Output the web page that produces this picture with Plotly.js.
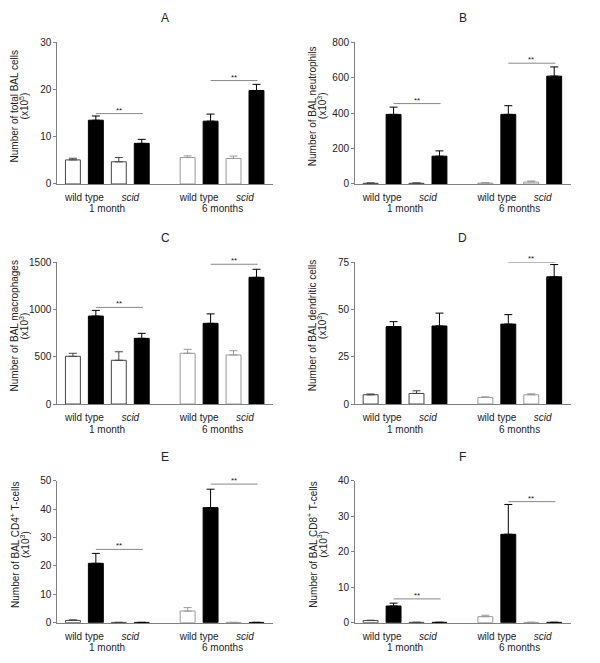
<!DOCTYPE html>
<html>
<head>
<meta charset="utf-8">
<script src="https://cdn.plot.ly/plotly-3.0.1.min.js"></script>
<style>
  html, body { margin:0; padding:0; background:#fff; }
  #plot { width:600px; height:663px; }
</style>
</head>
<body>
<div id="plot"></div>
<script>
(function(){
  // bar order inside each month: wild type ctrl, wild type infected, scid ctrl, scid infected
  const months = ['1 month', '6 months'];
  const strains = ['wild type', '<i>scid</i>'];
  const panelNames = ['A', 'B', 'C', 'D', 'E', 'F'];
  const yTitles = [
    'Number of total BAL cells',
    'Number of BAL neutrophils',
    'Number of BAL macrophages',
    'Number of BAL dendritic cells',
    'Number of BAL CD4<sup>+</sup> T-cells',
    'Number of BAL CD8<sup>+</sup> T-cells'
  ];
  const yUnits = ['(x10<sup>5</sup>)', '(x10<sup>3</sup>)', '(x10<sup>3</sup>)',
                  '(x10<sup>3</sup>)', '(x10<sup>3</sup>)', '(x10<sup>3</sup>)'];
  const yMax = [30, 800, 1500, 75, 50, 40];
  const yStep = [10, 200, 500, 25, 10, 10];

  const A_mean = [5.1, 13.5, 4.7, 8.6, 5.6, 13.3, 5.4, 19.8];
  const A_err  = [0.35, 0.9, 0.9, 0.85, 0.35, 1.5, 0.5, 1.3];
  const B_mean = [4, 393, 4, 157, 5, 393, 11, 609];
  const B_err  = [2, 41, 2, 30, 3, 49, 6, 52];
  const C_mean = [505, 931, 463, 695, 537, 854, 519, 1341];
  const C_err  = [32, 60, 90, 53, 42, 100, 45, 85];
  const D_mean = [4.9, 41, 5.6, 41.3, 3.5, 42.3, 4.9, 67.3];
  const D_err  = [0.4, 2.6, 1.4, 6.8, 0.3, 5, 0.5, 6.5];
  const E_mean = [0.8, 20.9, 0.1, 0.1, 4.1, 40.5, 0.1, 0.1];
  const E_err  = [0.2, 3.5, 0, 0, 1.2, 6.5, 0, 0];
  const F_mean = [0.6, 4.7, 0.1, 0.1, 1.7, 24.9, 0.1, 0.1];
  const F_err  = [0.1, 0.8, 0, 0, 0.4, 8.4, 0, 0];

  // height of the "**" lines (1 month, 6 months); null = none
  const A_sig = [14.9, 21.9];
  const B_sig = [454, 682];
  const C_sig = [1023, 1479];
  const D_sig = [null, 75];
  const E_sig = [25.8, 48.8];
  const F_sig = [6.7, 34.1];

  const means = [A_mean, B_mean, C_mean, D_mean, E_mean, F_mean];
  const errs = [A_err, B_err, C_err, D_err, E_err, F_err];
  const sigs = [A_sig, B_sig, C_sig, D_sig, E_sig, F_sig];

  const colDom = [[0.0955, 0.455], [0.5917, 0.9512]];
  const rowDom = [[0.7225, 0.9362], [0.3906, 0.6044], [0.0608, 0.2750]];
  const whiteEdge = ['#444', '#999'];
  const axisCol = '#808080';
  const font = 'Liberation Sans, Arial, sans-serif';

  const data = [];
  const annotations = [];
  const shapes = [];
  const layout = {
    width:600, height:663,
    margin:{ l:0, r:0, t:0, b:0 },
    paper_bgcolor:'#fff', plot_bgcolor:'#fff',
    showlegend:false,
    barmode:'overlay',
    font:{ family:font, size:10, color:'#222' }
  };

  panelNames.forEach((name, p) => {
    const n = p + 1;
    const xa = 'x' + (n === 1 ? '' : n), ya = 'y' + (n === 1 ? '' : n);
    const xk = 'xaxis' + (n === 1 ? '' : n), yk = 'yaxis' + (n === 1 ? '' : n);
    const col = p % 2, row = Math.floor(p / 2);

    months.forEach((m, g) => {
      [0, 1].forEach(inf => {
        const idx = [0, 2].map(k => g * 4 + k + inf);
        data.push({
          type:'bar', xaxis:xa, yaxis:ya,
          x: idx.map(i => Math.floor(i / 4) * 5 + (i % 4)),
          y: idx.map(i => means[p][i]),
          width:0.65,
          marker:{ color: inf ? '#000' : '#fff',
                   line:{ color: inf ? '#000' : whiteEdge[g], width:1 } },
          error_y:{ type:'data', symmetric:false,
                    array: idx.map(i => errs[p][i]),
                    arrayminus: idx.map(() => 0),
                    color: inf ? '#000' : whiteEdge[g], thickness:1, width:4 },
          hoverinfo:'y'
        });
      });

      // month label under the strain labels
      annotations.push({ xref:xa, yref:ya + ' domain', x: g * 5 + 1.5, y:0,
        yanchor:'middle', yshift:-25, showarrow:false, text:m,
        font:{ size:10, color:'#222' } });

      const s = sigs[p][g];
      if (s !== null) {
        shapes.push({ type:'line', xref:xa, yref:ya,
          x0: g * 5 + 1, x1: g * 5 + 3.05, y0:s, y1:s,
          line:{ color:'#888', width:1 } });
        annotations.push({ xref:xa, yref:ya, x: g * 5 + 2, y:s,
          yanchor:'bottom', yshift:-3, showarrow:false, text:'**',
          font:{ size:8, color:'#222' } });
      }
    });

    layout[xk] = {
      domain: colDom[col], anchor: ya,
      range:[-0.68, 8.72], fixedrange:true,
      showline:true, linecolor:axisCol, linewidth:1,
      showgrid:false, zeroline:false, ticks:'',
      ticklabelstandoff:4,
      tickvals:[0.5, 2.5, 5.5, 7.5],
      ticktext:[strains[0], strains[1], strains[0], strains[1]],
      tickfont:{ size:10, color:'#222' }
    };
    layout[yk] = {
      domain: rowDom[row], anchor: xa,
      range:[0, yMax[p]], dtick:yStep[p], tick0:0,
      showline:true, linecolor:axisCol, linewidth:1,
      showgrid:false, zeroline:false,
      ticks:'outside', ticklen:3, tickcolor:axisCol,
      tickfont:{ size:10, color:'#222' }
    };

    // panel letter
    annotations.push({ xref:xa + ' domain', yref:ya + ' domain', x:0.5, y:1,
      yanchor:'middle', yshift:24, showarrow:false, text:name,
      font:{ size:12, color:'#222' } });
    // y axis title, two rotated lines
    [yTitles[p], yUnits[p]].forEach((t, li) => {
      annotations.push({ xref:xa + ' domain', yref:ya + ' domain', x:0, y:0.5,
        xanchor:'center', yanchor:'middle', xshift: li ? -33 : -43, yshift:7,
        textangle:-90, showarrow:false, text:t,
        font:{ size:10, color:'#222' } });
    });
  });

  layout.annotations = annotations;
  layout.shapes = shapes;

  Plotly.newPlot('plot', data, layout, { displayModeBar:false, staticPlot:true });
})();
</script>
</body>
</html>
